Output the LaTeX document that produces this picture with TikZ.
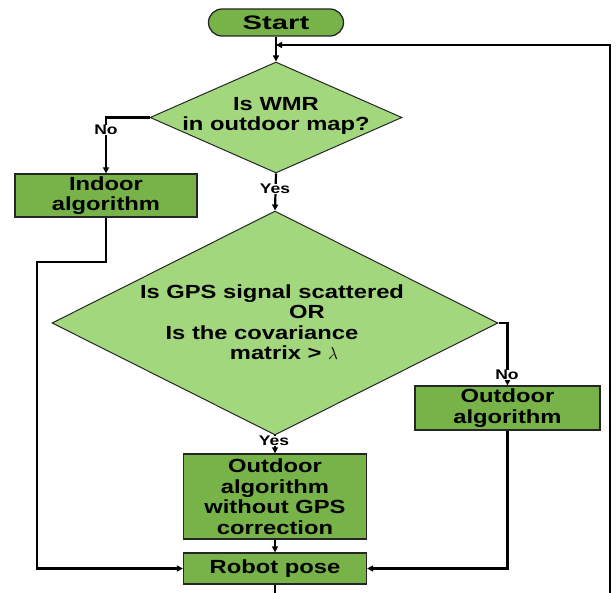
\documentclass[tikz,border=0pt]{standalone}
\usepackage{fontspec}
\setmainfont{Liberation Sans}[FakeStretch=1.25]
\usepackage{graphicx}
\usetikzlibrary{shapes.geometric,arrows.meta}
\definecolor{boxgreen}{HTML}{77B348}
\definecolor{diagreen}{HTML}{A3D77D}
\tikzset{
  procbox/.style={draw=black!85, line width=1.3pt, fill=boxgreen, inner sep=0pt,
    align=center, font=\fontsize{19}{20.5}\selectfont\bfseries},
  decbox/.style={diamond, draw=black!85, line width=1pt, fill=diagreen, inner sep=0pt},
  dectext/.style={align=center, inner sep=0pt, font=\fontsize{19}{20.5}\selectfont\bfseries},
  termbox/.style={draw=black!85, line width=1.3pt, fill=boxgreen, rounded corners=13.5pt,
    minimum width=135pt, minimum height=27pt, inner sep=0pt,
    font=\fontsize{19.5}{21}\selectfont\bfseries},
  lbl/.style={fill=white, inner sep=0.5pt, font=\fontsize{14}{15}\selectfont\bfseries},
  conn/.style={line width=2.2pt, black},
  arr/.style={conn, -{Triangle[length=6pt,width=6pt]}},
}
\begin{document}
\begin{tikzpicture}[x=1pt,y=-1pt]
\useasboundingbox (0,0) rectangle (616,593);

\node[termbox] (start) at (276,22.5) {\scalebox{1.2}[1]{Start}};
\node[decbox, minimum width=252pt, minimum height=111pt] (d1) at (276,117.5) {};
\node[dectext] (d1t) at (276,116) {Is WMR\\in outdoor map?};
\node[procbox, minimum width=182pt, minimum height=43pt] (indoor) at (106,195.5) {Indoor\\algorithm};
\node[decbox, minimum width=446pt, minimum height=224pt] (d2) at (275,323) {};
\node[dectext] (d2t) at (275,322)
  {\hbox{Is GPS signal scattered\kern6pt}\\\hbox{\kern64pt OR}\\\hbox{Is the covariance\kern26pt}\\\hbox{\kern18pt matrix > $\lambda$}};
\node[procbox, minimum width=185pt, minimum height=44pt] (outdoor) at (507.5,408) {Outdoor\\algorithm};
\node[procbox, minimum width=183pt, minimum height=85pt] (nogps) at (275,496.5)
  {Outdoor\\algorithm\\without GPS\\correction};
\node[procbox, minimum width=183pt, minimum height=31pt] (pose) at (275,568.5) {Robot pose};

\coordinate (l1) at (37,262);
\coordinate (bot) at (275,593);
\coordinate (br) at (610,593);
\coordinate (join) at (276,45);

\draw[arr] (start.south) -- (d1.north);
\draw[arr] (d1.west) -| (indoor.north);
\node[lbl] (no1) at (106,130) {No};
\draw[arr] (d1.south) -- (d2.north);
\node[lbl] (yes1) at (275,189) {Yes};
\draw[arr] (d2.east) -| (outdoor.north);
\node[lbl] (no2) at (507,375) {No};
\draw[arr] (d2.south) -- (nogps.north);
\node[lbl] (yes2) at (274,441) {Yes};
\draw[arr] (nogps.south) -- (pose.north);
\draw[arr] (outdoor.south) |- (pose.east);
\draw[arr] (indoor.south) |- (l1) |- (pose.west);
\draw[conn] (pose.south) -- (bot);
\draw[arr] (br) |- (join);
\end{tikzpicture}
\end{document}
